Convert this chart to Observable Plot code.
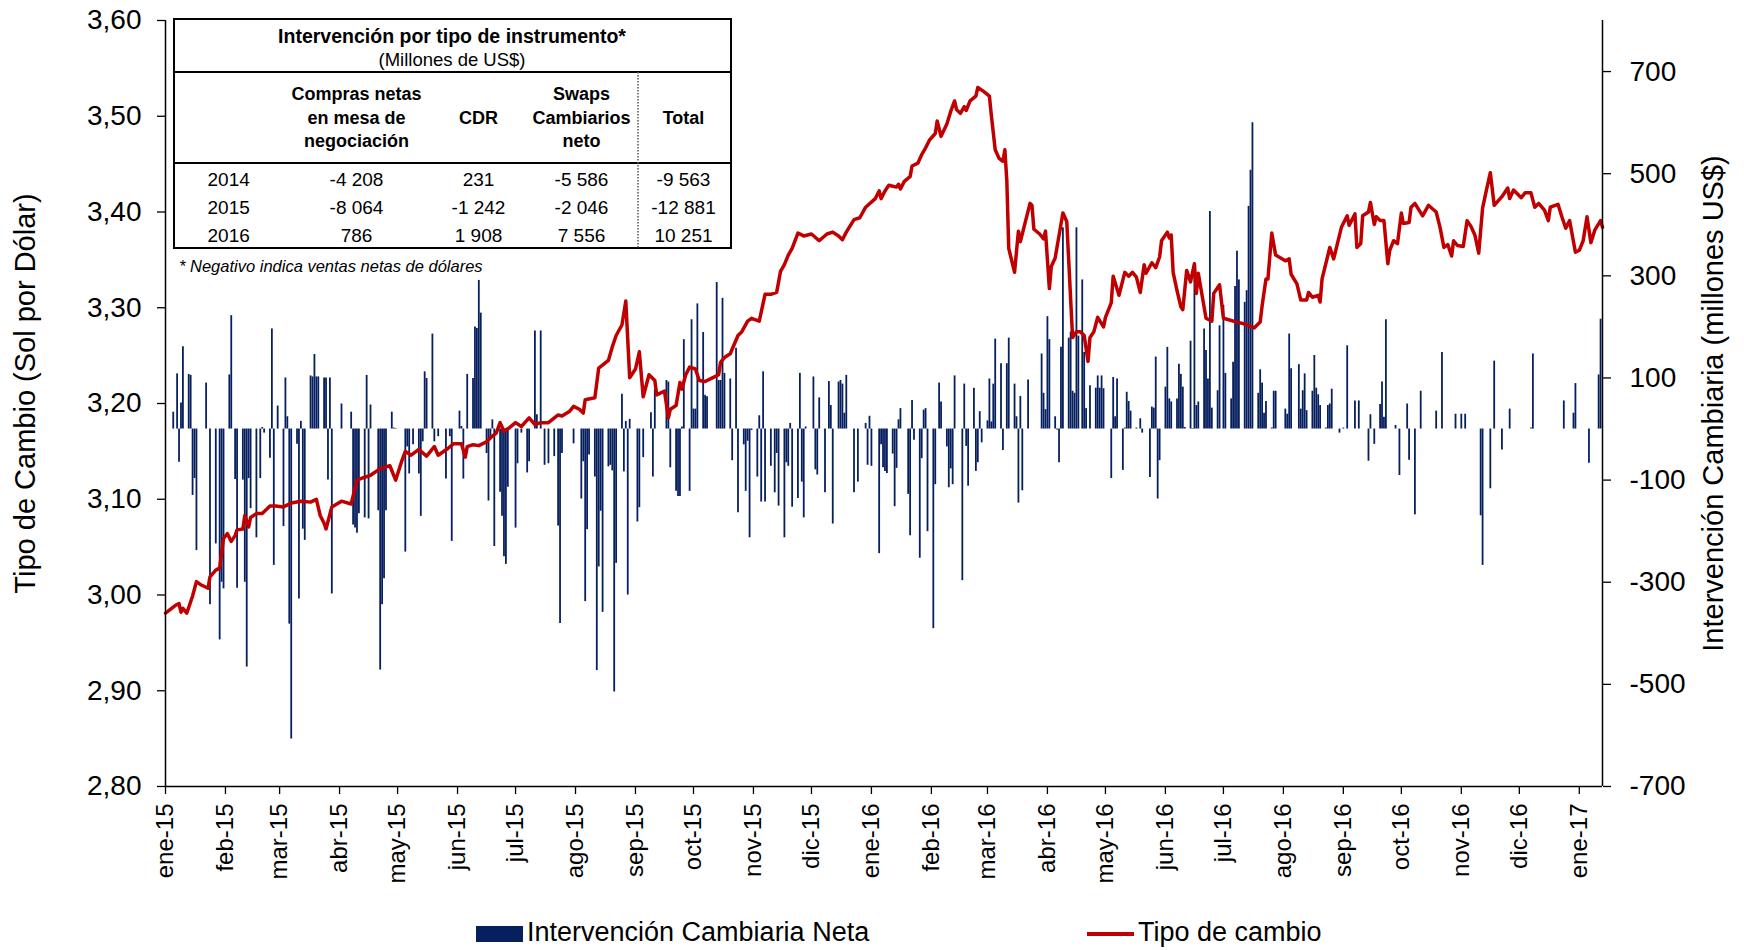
<!DOCTYPE html>
<html>
<head>
<meta charset="utf-8">
<script src="https://cdn.jsdelivr.net/npm/d3@7"></script>
<script src="https://cdn.jsdelivr.net/npm/@observablehq/plot@0.6"></script>
<style>
  html, body { margin: 0; padding: 0; background: #fff; }
  body { font-family: "Liberation Sans", Arial, sans-serif; color: #000; }
  #wrap { position: relative; width: 1744px; height: 950px; overflow: hidden; }
  #chart { position: absolute; left: 0; top: 0; }
  #overlay { position: absolute; left: 0; top: 0; }
  .leg { position: absolute; font-size: 27px; line-height: 1; white-space: nowrap; }
</style>
</head>
<body>
<div id="wrap">
  <div id="chart"></div>
  <svg id="overlay" width="1744" height="290"></svg>
  <div class="leg" style="left:476px; top:926px; width:47px; height:16px; background:#061f5e;"></div>
  <div class="leg" id="legBar" style="left:527px; top:919px;">Intervención Cambiaria Neta</div>
  <div class="leg" style="left:1087px; top:932px; width:47px; height:4px; background:#c00000;"></div>
  <div class="leg" id="legLine" style="left:1138px; top:919px;">Tipo de cambio</div>
</div>
<script>
// ---------- DATA (days counted from 2015-01-01) ----------
const startISO = "2015-01-01";
const endDay = 743;

const lineDays = [0,5,7,8,9,11,14,16,18,22,23,26,28,30,32,34,36,37,40,41,43,44,47,50,54,57,61,65,70,75,78,80,82,83,86,91,96,99,103,106,111,116,119,122,124,127,131,135,139,141,146,149,153,155,156,159,162,166,169,171,173,175,178,181,184,188,191,194,198,203,205,209,211,214,216,217,222,224,229,231,233,236,238,240,243,245,247,250,253,254,258,260,261,264,266,267,269,271,274,276,279,282,286,287,289,292,296,298,301,303,307,310,313,316,318,320,322,324,327,330,334,338,342,345,348,350,352,356,359,362,367,369,370,372,374,378,379,380,382,385,386,389,391,393,395,398,399,401,404,406,408,409,411,413,414,416,419,420,423,426,427,429,431,433,434,435,436,439,441,442,447,448,449,452,454,455,457,458,460,464,466,469,471,473,475,477,478,480,482,485,486,489,490,493,496,498,500,502,504,506,507,510,512,514,515,518,519,520,521,523,525,526,528,530,532,533,534,538,541,542,545,547,554,558,563,566,567,569,570,572,574,579,581,582,585,587,590,591,593,596,597,598,602,604,608,611,612,615,616,618,619,622,623,625,626,628,630,632,633,635,637,639,640,643,644,646,650,653,657,659,661,663,665,666,668,671,673,675,677,679,681,683,685,687,691,694,695,697,701,703,706,708,710,713,715,716,720,722,724,726,729,731,733,735,737,739,742,743];
const lineRates = [2.981,2.989,2.991,2.982,2.986,2.981,2.999,3.014,3.011,3.007,3.019,3.026,3.028,3.059,3.064,3.056,3.062,3.068,3.069,3.083,3.071,3.081,3.085,3.085,3.093,3.093,3.092,3.096,3.098,3.097,3.100,3.083,3.075,3.069,3.092,3.098,3.095,3.120,3.123,3.125,3.132,3.135,3.120,3.139,3.150,3.146,3.152,3.145,3.155,3.146,3.153,3.158,3.158,3.144,3.155,3.157,3.156,3.160,3.166,3.169,3.180,3.171,3.175,3.180,3.176,3.185,3.178,3.180,3.180,3.188,3.187,3.192,3.197,3.194,3.190,3.204,3.206,3.237,3.245,3.259,3.271,3.282,3.307,3.227,3.236,3.254,3.207,3.230,3.224,3.209,3.213,3.185,3.194,3.198,3.222,3.215,3.230,3.238,3.236,3.224,3.223,3.226,3.230,3.243,3.248,3.252,3.271,3.275,3.286,3.289,3.286,3.314,3.314,3.316,3.338,3.345,3.355,3.362,3.378,3.375,3.377,3.370,3.377,3.379,3.375,3.371,3.379,3.392,3.394,3.405,3.414,3.422,3.414,3.422,3.428,3.426,3.429,3.424,3.432,3.437,3.448,3.451,3.460,3.467,3.475,3.482,3.495,3.479,3.492,3.505,3.516,3.507,3.503,3.510,3.506,3.516,3.521,3.530,3.526,3.521,3.501,3.465,3.456,3.453,3.465,3.433,3.362,3.337,3.380,3.369,3.409,3.407,3.382,3.377,3.372,3.380,3.320,3.343,3.352,3.399,3.390,3.269,3.275,3.275,3.271,3.244,3.269,3.275,3.290,3.280,3.290,3.305,3.333,3.313,3.337,3.333,3.337,3.332,3.316,3.345,3.336,3.347,3.342,3.353,3.370,3.379,3.373,3.376,3.337,3.318,3.301,3.298,3.339,3.327,3.346,3.315,3.336,3.289,3.286,3.315,3.324,3.289,3.285,3.283,3.279,3.285,3.302,3.330,3.330,3.378,3.355,3.349,3.351,3.335,3.325,3.308,3.308,3.316,3.311,3.313,3.306,3.330,3.363,3.351,3.384,3.396,3.386,3.398,3.363,3.367,3.396,3.400,3.410,3.387,3.395,3.391,3.391,3.346,3.360,3.370,3.367,3.399,3.388,3.389,3.405,3.409,3.396,3.407,3.400,3.384,3.363,3.366,3.354,3.370,3.365,3.364,3.391,3.385,3.376,3.357,3.404,3.423,3.441,3.407,3.416,3.425,3.414,3.423,3.415,3.420,3.420,3.405,3.409,3.402,3.391,3.405,3.408,3.395,3.383,3.391,3.358,3.360,3.370,3.395,3.368,3.381,3.391,3.384];

const barDays = [4,6,7,8,9,12,13,14,15,16,21,23,26,28,29,30,33,34,36,37,40,41,42,43,44,47,49,50,51,54,55,56,58,61,62,63,64,65,68,69,70,71,72,75,76,77,78,79,82,83,84,85,86,91,96,97,98,99,100,103,104,105,106,110,111,112,113,114,117,118,119,124,
125,126,128,131,132,133,134,135,138,139,141,145,147,148,152,153,154,156,159,160,161,162,163,166,167,168,169,170,173,174,175,176,177,181,182,184,187,188,191,192,194,196,198,201,203,204,205,211,215,216,217,218,219,222,223,224,225,226,229,230,231,232,233,236,237,238,239,240,244,245,247,
251,252,253,259,260,261,264,265,266,267,268,271,272,273,274,275,278,279,280,285,286,287,288,289,292,293,295,296,299,300,301,302,303,306,307,308,309,310,313,315,316,317,320,321,322,323,324,327,328,329,330,331,335,336,337,338,341,343,344,345,348,349,350,351,352,356,358,362,363,364,365,369,370,371,372,373,
376,377,378,379,380,384,385,386,387,390,391,392,393,394,397,398,400,401,404,405,406,407,408,412,413,414,415,418,419,420,421,422,425,426,427,428,429,432,433,435,436,439,440,441,442,443,446,453,454,455,456,457,460,461,462,463,464,467,468,469,470,471,472,474,475,476,478,481,482,483,484,485,489,490,491,492,495,496,497,
498,499,502,504,505,509,510,511,512,513,514,517,518,519,520,523,524,525,526,527,530,531,532,533,534,537,538,539,540,541,544,545,547,548,551,552,553,554,555,558,559,560,561,562,565,566,567,568,569,572,573,574,579,580,581,582,586,587,588,589,590,593,594,595,596,597,600,601,602,603,607,609,611,615,617,622,
623,625,628,629,630,631,636,638,642,643,646,649,657,660,667,670,672,680,681,685,687,691,695,706,707,723,728,729,736,741,742];
const barValues = [33,108,-65,51,161,107,105,-130,-97,-238,90,-344,-225,-413,-300,-313,106,222,-99,-312,-100,-300,-466,-97,-156,-213,-97,3,-8,-57,196,-267,45,-191,100,24,-382,-607,-30,-333,15,-196,-218,104,102,146,102,102,100,100,-100,100,-323,49,33,-188,-194,-204,-166,-174,105,-176,47,-160,-472,-344,-293,-160,33,2,1,-241,
-35,-88,-31,-88,-171,-25,112,99,186,-25,-15,-98,-15,-220,35,5,-98,107,99,200,197,291,227,-48,-141,-21,18,-230,-124,-171,-250,-265,-114,-194,-68,-8,-86,-64,192,28,192,-71,-68,-54,-190,-381,-48,-29,-137,-64,-338,-197,-51,-94,-473,-270,-161,-359,-74,-71,-82,-515,-263,68,-84,15,-325,19,-182,-154,-56,
32,-94,77,95,92,-76,-122,-132,-132,4,175,-122,214,39,39,245,189,66,63,287,95,95,256,109,98,-62,158,-164,-31,-122,-24,-213,-3,-94,26,-143,112,-143,-73,-125,-48,-151,-213,-66,-73,11,-153,-136,109,-104,-174,4,102,-80,-90,61,-125,93,46,-186,92,95,88,31,105,-125,-104,11,-71,25,-73,-244,-31,-76,-83,-87,
-49,-152,-77,18,40,-128,-209,56,-22,-253,-58,37,40,-201,-391,-109,90,53,-35,-115,-78,-109,104,-297,88,-34,-112,80,-83,-66,34,-27,16,98,14,88,176,128,-42,128,178,88,24,-145,64,-121,96,147,70,38,220,175,24,-2,-66,160,394,178,190,74,70,394,182,292,150,40,85,80,104,80,104,79,-97,101,24,98,-81,2,72,
54,35,2,20,-8,-95,43,41,141,-137,-62,82,160,59,53,59,127,107,82,3,172,1,318,46,53,196,154,98,426,41,75,202,242,109,59,131,279,348,292,248,271,436,507,600,70,116,90,31,54,2,74,74,39,29,186,118,126,39,75,108,36,74,144,80,67,46,2,46,49,78,-8,2,163,55,55,-63,
28,-30,48,92,23,214,7,-91,49,-61,-168,74,35,150,29,29,29,-170,-267,-117,133,-41,39,2,147,55,31,89,-67,106,215];

const monthNames = ["ene","feb","mar","abr","may","jun","jul","ago","sep","oct","nov","dic"];
const leftTicks = [2.80,2.90,3.00,3.10,3.20,3.30,3.40,3.50,3.60];
const rightTicks = [-700,-500,-300,-100,100,300,500,700];
const leftDomain = [2.80, 3.60];
const rightDomain = [-700, 800];

const leftTitle = "Tipo de Cambio (Sol por Dólar)";
const rightTitle = "Intervención Cambiaria (millones US$)";

const tableTitle = "Intervención por tipo de instrumento*";
const tableSubtitle = "(Millones de US$)";
const tableHeaders = [["Compras netas","en mesa de","negociación"],["CDR"],["Swaps","Cambiarios","neto"],["Total"]];
const tableYears = ["2014","2015","2016"];
const comprasNetas = [-4208,-8064,786];
const cdrValues = [231,-1242,1908];
const swapsValues = [-5586,-2046,7556];
const totalValues = [-9563,-12881,10251];
const footnote = "* Negativo indica ventas netas de dólares";

// ---------- BUILD ----------
const start = new Date(startISO + "T00:00:00Z");
const dayDate = n => d3.utcDay.offset(start, n);
const xEnd = dayDate(endDay);
const toRight = v => (v - leftDomain[0]) / (leftDomain[1] - leftDomain[0]) * (rightDomain[1] - rightDomain[0]) + rightDomain[0];
const fromRight = r => (r - rightDomain[0]) / (rightDomain[1] - rightDomain[0]) * (leftDomain[1] - leftDomain[0]) + leftDomain[0];

const lineData = lineDays.map((d, i) => ({date: dayDate(d), rate: lineRates[i]}));
const barData = barDays.map((d, i) => ({date: dayDate(d), value: barValues[i]}));
const monthTicks = d3.utcMonth.range(start, xEnd);

const FONT = "'Liberation Sans', Arial, sans-serif";

const chart = Plot.plot({
  width: 1744,
  height: 905,
  marginLeft: 165,
  marginRight: 142,
  marginTop: 20,
  marginBottom: 119,
  style: {fontFamily: FONT, color: "#000", background: "#fff", overflow: "visible"},
  x: {type: "utc", domain: [start, xEnd]},
  y: {domain: rightDomain},
  marks: [
    Plot.ruleX(barData, {x: "date", y1: 0, y2: "value", stroke: "#061f5e", strokeWidth: 1.8}),
    Plot.line(lineData, {x: "date", y: d => toRight(d.rate), stroke: "#c00000", strokeWidth: 3.5, strokeLinejoin: "round"}),
    Plot.ruleX([start], {stroke: "#000", strokeWidth: 1.5}),
    Plot.ruleX([xEnd], {stroke: "#000", strokeWidth: 1.5}),
    Plot.ruleY([rightDomain[0]], {stroke: "#000", strokeWidth: 1.5}),
    Plot.axisX({
      ticks: monthTicks,
      tickFormat: d => monthNames[d.getUTCMonth()] + "-" + String(d.getUTCFullYear()).slice(2),
      tickRotate: -90, tickSize: 8, tickPadding: 9, fontSize: 24, label: null, strokeWidth: 1.3
    }),
    Plot.axisY({
      anchor: "left",
      ticks: leftTicks.map(toRight),
      tickFormat: d => fromRight(d).toFixed(2).replace(".", ","),
      tickSize: 8, tickPadding: 16, fontSize: 28, label: null, strokeWidth: 1.3
    }),
    Plot.axisY({
      anchor: "right",
      ticks: rightTicks,
      tickFormat: d => String(d),
      tickSize: 8, tickPadding: 19, fontSize: 28, label: null, strokeWidth: 1.3
    }),
    Plot.text([leftTitle], {text: d => d, frameAnchor: "left", textAnchor: "middle", dx: -140, dy: -10, rotate: -90, fontSize: 29, fill: "#000"}),
    Plot.text([rightTitle], {text: d => d, frameAnchor: "right", textAnchor: "middle", dx: 111, rotate: -90, fontSize: 29, fill: "#000"})
  ]
});
document.getElementById("chart").appendChild(chart);

// ---------- TABLE OVERLAY ----------
const fmt = n => (n < 0 ? "-" : "") + String(Math.abs(n)).replace(/\B(?=(\d{3})+(?!\d))/g, " ");
const svg = d3.select("#overlay");
const box = {x0: 174, y0: 19, x1: 731, y1: 248};
svg.append("rect").attr("x", box.x0).attr("y", box.y0).attr("width", box.x1 - box.x0).attr("height", box.y1 - box.y0)
  .attr("fill", "#fff").attr("stroke", "#000").attr("stroke-width", 2);
svg.append("line").attr("x1", box.x0).attr("x2", box.x1).attr("y1", 72).attr("y2", 72).attr("stroke", "#000").attr("stroke-width", 2);
svg.append("line").attr("x1", box.x0).attr("x2", box.x1).attr("y1", 163).attr("y2", 163).attr("stroke", "#000").attr("stroke-width", 2);
svg.append("line").attr("x1", 638).attr("x2", 638).attr("y1", 72).attr("y2", box.y1).attr("stroke", "#555").attr("stroke-width", 1.5).attr("stroke-dasharray", "1.5,1.5");

const T = (x, y, s, size, weight, anchor, style) => svg.append("text")
  .attr("x", x).attr("y", y).attr("text-anchor", anchor || "middle")
  .attr("font-family", FONT).attr("font-size", size).attr("font-weight", weight || "normal")
  .attr("font-style", style || "normal").attr("fill", "#000").text(s);

T(452, 43, tableTitle, 19.5, "bold");
T(452, 66, tableSubtitle, 18.5);
const colX = [356.5, 478.5, 581.5, 683.5];
const headerY = {3: [100, 124, 147], 1: [124]};
tableHeaders.forEach((lines, i) => {
  const ys = headerY[lines.length];
  lines.forEach((l, j) => T(colX[i], ys[j], l, 18, "bold"));
});
const rowY = [185.5, 214, 242];
tableYears.forEach((yr, r) => {
  T(228.7, rowY[r], yr, 19);
  T(colX[0], rowY[r], fmt(comprasNetas[r]), 19);
  T(colX[1], rowY[r], fmt(cdrValues[r]), 19);
  T(colX[2], rowY[r], fmt(swapsValues[r]), 19);
  T(colX[3], rowY[r], fmt(totalValues[r]), 19);
});
T(179, 271.5, footnote, 16.5, "normal", "start", "italic");
</script>
</body>
</html>
